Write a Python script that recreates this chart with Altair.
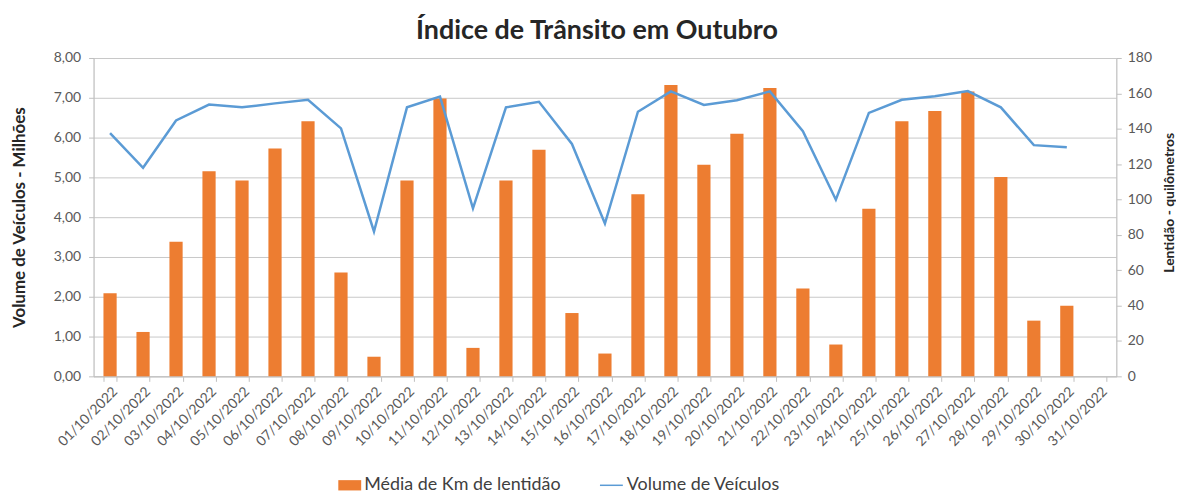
import altair as alt
import pandas as pd

dates = ["01/10/2022", "02/10/2022", "03/10/2022", "04/10/2022", "05/10/2022",
         "06/10/2022", "07/10/2022", "08/10/2022", "09/10/2022", "10/10/2022",
         "11/10/2022", "12/10/2022", "13/10/2022", "14/10/2022", "15/10/2022",
         "16/10/2022", "17/10/2022", "18/10/2022", "19/10/2022", "20/10/2022",
         "21/10/2022", "22/10/2022", "23/10/2022", "24/10/2022", "25/10/2022",
         "26/10/2022", "27/10/2022", "28/10/2022", "29/10/2022", "30/10/2022",
         "31/10/2022"]

km_lentidao = [47.0, 25.1, 76.1, 115.9, 110.8, 128.8, 144.2, 58.7, 11.1, 110.8,
               157.1, 16.1, 110.8, 128.1, 35.8, 12.9, 102.9, 164.8, 119.6, 137.1,
               163.0, 49.7, 18.0, 94.7, 144.2, 150.0, 161.0, 112.7, 31.5, 39.9, None]

volume_milhoes = [6.11, 5.24, 6.43, 6.83, 6.76, 6.86, 6.95, 6.23, 3.64, 6.76,
                  7.03, 4.22, 6.76, 6.90, 5.84, 3.84, 6.65, 7.16, 6.82, 6.94,
                  7.16, 6.16, 4.44, 6.62, 6.95, 7.04, 7.17, 6.76, 5.81, 5.76, None]

series_bar = "Média de Km de lentidão"
series_line = "Volume de Veículos"

left_ticks = [0, 1, 2, 3, 4, 5, 6, 7, 8]
right_ticks = [0, 20, 40, 60, 80, 100, 120, 140, 160, 180]

df = pd.DataFrame({"data": dates, "km": km_lentidao, "vol": volume_milhoes})
df["s_bar"] = series_bar
df["s_line"] = series_line

FONT = "Lato"
LABEL = "#595959"
AXIS_GRAY = "#bfbfbf"

x_enc = alt.X(
    "data:N",
    sort=dates,
    scale=alt.Scale(domain=dates, paddingInner=0.6, paddingOuter=0.3),
    axis=alt.Axis(
        title=None, labelAngle=-45, labelFont=FONT, labelFontSize=14,
        labelColor=LABEL, labelOverlap=False, labelPadding=3,
        tickBand="extent", tickSize=5, tickColor=AXIS_GRAY,
        domainColor=AXIS_GRAY, grid=False, labelLimit=200,
    ),
)

bars = alt.Chart(df).mark_bar(color="#ED7D31").encode(
    x=x_enc,
    y=alt.Y(
        "km:Q",
        scale=alt.Scale(domain=[0, 180], nice=False),
        axis=alt.Axis(
            orient="right", values=right_ticks, grid=False,
            title="Lentidão - quilômetros", titleFont=FONT, titleFontSize=14,
            titleFontWeight="bold", titleColor="#262626", titleAngle=270,
            titleX=53, titleY=145, titleAlign="center", titleBaseline="middle",
            labelFont=FONT, labelFontSize=14, labelColor=LABEL, labelPadding=6,
            tickSize=5, tickColor=AXIS_GRAY, domainColor=AXIS_GRAY,
        ),
    ),
    color=alt.Color(
        "s_bar:N",
        scale=alt.Scale(domain=[series_bar], range=["#ED7D31"]),
        legend=alt.Legend(
            title=None, orient="none", legendX=246, legendY=418,
            symbolType="M-1,-0.45H1V0.45H-1Z", symbolSize=529,
            symbolStrokeWidth=0, labelFont=FONT, labelFontSize=18,
            labelColor="#404040", labelOffset=3, padding=0, labelLimit=400,
        ),
    ),
)

line = alt.Chart(df).mark_line(color="#5B9BD5", strokeWidth=2.5).encode(
    x=x_enc,
    y=alt.Y(
        "vol:Q",
        scale=alt.Scale(domain=[0, 8], nice=False),
        axis=alt.Axis(
            orient="left", values=left_ticks, grid=True, gridColor="#c8c8c8",
            gridWidth=1,
            labelExpr="replace(format(datum.value, '.2f'), '.', ',')",
            title="Volume de Veículos - Milhões", titleFont=FONT,
            titleFontSize=17, titleFontWeight="bold", titleColor="#262626",
            titleAngle=270, titleX=-74, titleY=160, titleAlign="center",
            titleBaseline="middle",
            labelFont=FONT, labelFontSize=14, labelColor=LABEL, labelPadding=8,
            tickSize=5, tickColor=AXIS_GRAY, domainColor=AXIS_GRAY,
        ),
    ),
    color=alt.Color(
        "s_line:N",
        scale=alt.Scale(domain=[series_line], range=["#5B9BD5"]),
        legend=alt.Legend(
            title=None, orient="none", legendX=508, legendY=417,
            symbolType="stroke", symbolSize=529, symbolStrokeWidth=1.5,
            labelFont=FONT, labelFontSize=18, labelColor="#404040",
            labelOffset=3, padding=0, labelLimit=400,
        ),
    ),
)

chart = (
    alt.layer(bars, line)
    .resolve_scale(y="independent", color="independent")
    .resolve_legend(color="independent")
    .properties(
        width=1028,
        height=320,
        autosize=alt.AutoSizeParams(type="none"),
        padding={"left": 86, "top": 49, "right": 60, "bottom": 118},
        title=alt.TitleParams(
            "Índice de Trânsito em Outubro", font=FONT, fontSize=27,
            fontWeight="bold", color="#262626", anchor="middle", offset=6, dx=-8,
        ),
    )
    .configure_view(stroke=None)
    .configure(font=FONT)
)

chart.save("out.html", embed_options={"renderer": "svg", "actions": False})
